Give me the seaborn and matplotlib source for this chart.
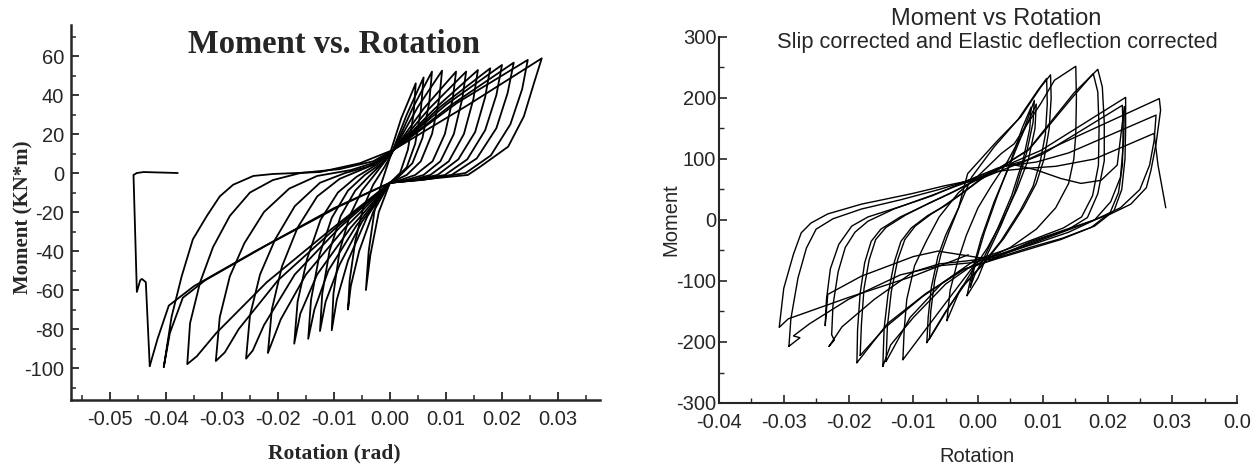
import pandas as pd
import matplotlib
matplotlib.use('Agg')
import matplotlib.pyplot as plt
import seaborn as sns
from matplotlib.ticker import MultipleLocator, FixedLocator

# ---------------- datos ----------------
# Grafico izquierdo: ciclos (rotacion [rad], momento [KN*m])
ciclo_l1 = [(0.0, 10), (0.002, 28), (0.0046, 46), (0.0042, 30), (0.0032, 12), (0.0018, 0), (0.0, -5),
            (-0.002, -20), (-0.0035, -42), (-0.0043, -60), (-0.0038, -40), (-0.0028, -20), (-0.0015, -5), (0.0, 8)]
ciclo_l2 = [(0.0, 8), (0.003, 30), (0.006, 49), (0.0055, 32), (0.0045, 15), (0.003, 3), (0.001, -3), (0.0, -5),
            (-0.003, -20), (-0.0055, -40), (-0.007, -58), (-0.0075, -70), (-0.0072, -55), (-0.0062, -35),
            (-0.0048, -18), (-0.003, -6), (-0.001, 3), (0.0007, 12)]
ciclo_l3 = [(0.0007, 12), (0.004, 33), (0.0075, 52), (0.007, 36), (0.0058, 18), (0.004, 5), (0.0015, -2), (0.0, -5),
            (-0.004, -22), (-0.0075, -45), (-0.0095, -65), (-0.0104, -80.6), (-0.0101, -62), (-0.009, -40),
            (-0.0072, -22), (-0.005, -9), (-0.0025, 0), (0.0007, 12)]
ciclo_l4 = [(0.0007, 12), (0.005, 34), (0.0093, 52.5), (0.0088, 38), (0.0075, 20), (0.0055, 6), (0.003, -1), (0.0, -5),
            (-0.005, -25), (-0.009, -47), (-0.0115, -66), (-0.0125, -81), (-0.0121, -62), (-0.0108, -40),
            (-0.0088, -22), (-0.0062, -9), (-0.0035, -1), (-0.001, 6), (0.0007, 12)]
ciclo_l5 = [(0.0007, 12), (0.006, 33), (0.0118, 52), (0.0112, 38), (0.0098, 20), (0.0076, 6), (0.0045, -1), (0.002, -3.5),
            (0.0, -5), (-0.006, -27), (-0.011, -50), (-0.0135, -70), (-0.0146, -85), (-0.0141, -65), (-0.0126, -42),
            (-0.0104, -23), (-0.0075, -9), (-0.0045, -1), (-0.0015, 5), (0.0007, 12)]
ciclo_l6 = [(0.0007, 12), (0.007, 33), (0.0136, 52), (0.0129, 38), (0.0114, 20), (0.009, 6), (0.006, -1), (0.003, -3.5),
            (0.0, -5), (-0.007, -28), (-0.013, -52), (-0.016, -72), (-0.0171, -87.5), (-0.0165, -66), (-0.0148, -44),
            (-0.0124, -24), (-0.0093, -10), (-0.006, -2), (-0.002, 5), (0.0007, 12)]
ciclo_l7 = [(0.0007, 12), (0.008, 33), (0.0157, 52.8), (0.0149, 38), (0.0132, 20), (0.0105, 6), (0.0072, -1), (0.004, -3.5),
            (0.0, -5), (-0.008, -28), (-0.015, -52), (-0.0195, -75), (-0.0218, -92.3), (-0.0211, -70), (-0.0193, -48),
            (-0.0165, -28), (-0.013, -12), (-0.009, -3), (-0.004, 3), (0.0007, 12)]
ciclo_l8 = [(0.0007, 12), (0.009, 34), (0.0179, 53.7), (0.017, 39), (0.0152, 21), (0.0122, 7), (0.0085, -1), (0.0045, -3.5),
            (0.0, -5), (-0.009, -28), (-0.017, -52), (-0.0225, -78), (-0.0245, -91), (-0.0257, -95.2), (-0.025, -73),
            (-0.0232, -52), (-0.0205, -34), (-0.017, -17), (-0.0125, -5), (-0.008, 0), (-0.003, 4), (0.0007, 12)]
ciclo_l9 = [(0.0007, 12), (0.01, 35), (0.020, 55.4), (0.019, 40), (0.017, 22), (0.0138, 7), (0.0098, -1), (0.005, -3.5),
            (0.0, -5), (-0.01, -29), (-0.02, -55), (-0.027, -80), (-0.0295, -92), (-0.0311, -96.4), (-0.0304, -74),
            (-0.0286, -53), (-0.026, -36), (-0.0225, -20), (-0.018, -8), (-0.013, -1.5), (-0.007, 1.5), (-0.002, 6),
            (0.0007, 12)]
ciclo_l10 = [(0.0007, 12), (0.011, 35), (0.0221, 56.6), (0.021, 41), (0.019, 23), (0.0155, 7.5), (0.011, -1), (0.006, -3.5),
             (0.0, -5), (-0.011, -30), (-0.022, -56), (-0.031, -82), (-0.0345, -94), (-0.0362, -98), (-0.0357, -77),
             (-0.0339, -56), (-0.0316, -38), (-0.0286, -22), (-0.025, -10), (-0.0209, -3.6), (-0.016, 0), (-0.009, 2),
             (-0.003, 6), (0.0007, 12)]
ciclo_l11 = [(0.0007, 12), (0.012, 36), (0.0246, 58), (0.0236, 43), (0.0215, 25), (0.018, 9), (0.0135, 0), (0.007, -3),
             (0.0, -5), (-0.009, -17), (-0.022, -37), (-0.033, -55), (-0.037, -64), (-0.0393, -82), (-0.0404, -99.6),
             (-0.039, -73.7), (-0.0372, -53), (-0.0352, -34), (-0.0327, -22), (-0.0304, -12), (-0.028, -6),
             (-0.0244, -1.5), (-0.0209, -0.5), (-0.0125, 0.5), (-0.0054, 5), (0.0007, 12)]
ciclo_l12 = [(0.0007, 12), (0.014, 35), (0.0271, 58.8), (0.0257, 46), (0.0239, 29), (0.0211, 13.5), (0.016, 3),
             (0.0139, -1), (0.007, -3), (0.0, -5), (-0.01, -18), (-0.024, -40), (-0.035, -58), (-0.0395, -68),
             (-0.0415, -85), (-0.0429, -99)]
# rotura final
rotura_l = [(-0.0429, -99), (-0.0436, -56), (-0.0443, -54.3), (-0.0446, -55), (-0.0452, -61), (-0.0458, -1),
            (-0.0452, 0), (-0.044, 0.5), (-0.0379, 0)]

# Grafico derecho: ciclos corregidos (rotacion, momento)
ciclo_r1 = [(-0.0017, -124), (-0.0008, -80), (0.0005, -30), (0.0025, 30), (0.0045, 80), (0.0068, 140), (0.0087, 196),
            (0.0085, 160), (0.0075, 110), (0.0056, 43), (0.0035, -10), (0.0015, -55), (0.0, -95), (-0.0017, -124)]
ciclo_r1b = [(-0.0012, -110), (-0.0004, -70), (0.001, -20), (0.003, 40), (0.005, 95), (0.0068, 150), (0.0082, 185),
             (0.008, 150), (0.007, 100), (0.0052, 40), (0.003, -15), (0.001, -60), (-0.0005, -90), (-0.0012, -110)]
ciclo_r2 = [(-0.0048, -165), (-0.0043, -115), (-0.0032, -70), (-0.0018, -25), (0.0, 20), (0.002, 55), (0.0045, 95),
            (0.0068, 140), (0.009, 190), (0.0088, 150), (0.0078, 100), (0.006, 50), (0.0038, 0), (0.0015, -45),
            (-0.001, -85), (-0.003, -120), (-0.0048, -165)]
ciclo_r3 = [(-0.0079, -201), (-0.0077, -160), (-0.0072, -110), (-0.0062, -60), (-0.005, -25), (-0.003, 20),
            (-0.0016, 76), (0.003, 130), (0.0066, 169), (0.0097, 218), (0.0112, 238), (0.0113, 200), (0.011, 150),
            (0.0102, 100), (0.009, 60), (0.007, 20), (0.004, -30), (0.001, -70), (-0.002, -105), (-0.005, -150),
            (-0.0079, -201)]
ciclo_r3b = [(-0.0075, -195), (-0.0073, -150), (-0.0067, -100), (-0.0057, -55), (-0.0045, -20), (-0.0028, 25),
             (-0.001, 70), (0.0025, 120), (0.0062, 165), (0.0092, 212), (0.0106, 232), (0.0107, 190), (0.0104, 140),
             (0.0096, 95), (0.0085, 55), (0.0065, 15), (0.0035, -35), (0.0005, -75), (-0.0025, -110),
             (-0.0052, -155), (-0.0075, -195)]
ciclo_r4 = [(-0.0116, -229), (-0.0114, -180), (-0.011, -130), (-0.0098, -75), (-0.008, -35), (-0.006, 5), (-0.003, 45),
            (0.0, 72), (0.0036, 109), (0.0056, 125), (0.0097, 191), (0.0118, 229), (0.0151, 252), (0.0152, 200),
            (0.0151, 140), (0.0148, 100), (0.014, 60), (0.012, 20), (0.009, -15), (0.005, -45), (0.001, -65),
            (-0.001, -80), (-0.006, -150), (-0.0116, -229)]
ciclo_r5 = [(-0.0147, -240), (-0.0145, -178), (-0.0139, -122), (-0.0129, -68), (-0.0119, -35), (-0.0103, -13),
            (-0.0078, 7), (-0.0057, 20), (-0.0026, 43), (0.0, 64), (0.004, 90), (0.0077, 114), (0.0148, 208),
            (0.0185, 247), (0.0192, 218), (0.0195, 160), (0.0195, 97), (0.0185, 43), (0.0169, 4), (0.014, -15),
            (0.01, -30), (0.005, -50), (0.0, -68), (-0.005, -105), (-0.01, -160), (-0.0135, -205), (-0.0147, -240)]
ciclo_r5b = [(-0.0142, -232), (-0.014, -175), (-0.0134, -118), (-0.0124, -65), (-0.0113, -32), (-0.0097, -10),
             (-0.0072, 10), (-0.005, 24), (-0.002, 47), (0.0005, 67), (0.0045, 93), (0.008, 117), (0.0145, 200),
             (0.0178, 240), (0.0185, 210), (0.0187, 150), (0.0186, 90), (0.0177, 40), (0.016, 5), (0.0132, -13),
             (0.0095, -28), (0.0045, -48), (-0.0005, -66), (-0.0055, -103), (-0.0105, -160), (-0.0142, -232)]
ciclo_r6 = [(-0.0187, -234), (-0.0186, -180), (-0.0182, -120), (-0.0175, -70), (-0.0165, -35), (-0.015, -15),
            (-0.012, 5), (-0.008, 25), (-0.004, 45), (-0.001, 62), (0.004, 88), (0.0097, 114), (0.0228, 201),
            (0.0228, 150), (0.0227, 100), (0.0222, 50), (0.021, 15), (0.018, -10), (0.013, -30), (0.008, -45),
            (0.003, -62), (-0.002, -80), (-0.008, -120), (-0.014, -170), (-0.0187, -234)]
ciclo_r6b = [(-0.0182, -222), (-0.018, -170), (-0.0176, -112), (-0.0168, -65), (-0.0158, -32), (-0.0142, -12),
             (-0.0112, 8), (-0.0075, 28), (-0.0035, 48), (-0.0005, 64), (0.0045, 85), (0.01, 108), (0.0223, 188),
             (0.0224, 140), (0.0223, 90), (0.0217, 45), (0.0204, 12), (0.0175, -12), (0.0128, -32), (0.0078, -48),
             (0.0028, -64), (-0.0025, -82), (-0.0085, -125), (-0.0142, -175), (-0.0182, -222)]
ciclo_r7 = [(-0.023, -207), (-0.0222, -197), (-0.0226, -188), (-0.0224, -140), (-0.0216, -85), (-0.0205, -45),
            (-0.019, -20), (-0.017, -2), (-0.013, 18), (-0.008, 37), (-0.003, 57), (0.0, 68), (0.005, 92),
            (0.009, 82), (0.0128, 68), (0.0159, 60), (0.019, 65), (0.0215, 90), (0.0226, 186), (0.0225, 130),
            (0.022, 70), (0.0205, 30), (0.018, 0), (0.014, -20), (0.009, -38), (0.004, -55), (0.0, -65),
            (-0.006, -72), (-0.01, -85), (-0.016, -130), (-0.021, -175), (-0.023, -207)]
ciclo_r8 = [(-0.0236, -173), (-0.0234, -130), (-0.0228, -80), (-0.0215, -40), (-0.0195, -10), (-0.017, 5),
            (-0.012, 22), (-0.007, 40), (-0.002, 63), (0.003, 85), (0.0075, 98), (0.0128, 125), (0.028, 199),
            (0.0282, 180), (0.0275, 125), (0.0267, 81), (0.026, 53), (0.0236, 26), (0.0205, 10), (0.0174, -2),
            (0.0143, -13), (0.0082, -35), (0.005, -51), (0.002, -65), (-0.002, -58), (-0.0062, -51), (-0.01, -60),
            (-0.018, -92), (-0.0232, -122), (-0.0236, -173)]
ciclo_r9 = [(-0.0292, -207), (-0.0289, -162), (-0.0278, -95), (-0.0265, -46), (-0.025, -15), (-0.0224, 2),
            (-0.018, 18), (-0.012, 33), (-0.006, 50), (-0.002, 63), (0.004, 88), (0.009, 95), (0.014, 110),
            (0.0275, 172), (0.0272, 130), (0.0265, 90), (0.025, 50), (0.022, 20), (0.018, 0), (0.013, -20),
            (0.008, -40), (0.003, -60), (-0.001, -70), (-0.006, -75), (-0.012, -90), (-0.02, -130), (-0.026, -170),
            (-0.0285, -190), (-0.0275, -193), (-0.0292, -207)]
ciclo_r10 = [(-0.0015, -57), (-0.01, -92), (-0.02, -127), (-0.0293, -162), (-0.0307, -176), (-0.030, -112),
             (-0.0285, -56), (-0.0273, -21), (-0.0258, -5), (-0.0232, 10), (-0.018, 26), (-0.0103, 43),
             (-0.0052, 56), (-0.0015, 64), (0.003, 80), (0.008, 85), (0.012, 88), (0.018, 100), (0.0272, 142),
             (0.0278, 90), (0.029, 20)]

# ejes y etiquetas
izq_xticks = [-0.05, -0.04, -0.03, -0.02, -0.01, 0.0, 0.01, 0.02, 0.03]
izq_xlabels = ['-0.05', '-0.04', '-0.03', '-0.02', '-0.01', '0.00', '0.01', '0.02', '0.03']
izq_yticks = [60, 40, 20, 0, -20, -40, -60, -80, -100]
izq_ylabels = ['60', '40', '20', '0', '-20', '-40', '-60', '-80', '-100']
der_xticks = [-0.04, -0.03, -0.02, -0.01, 0.0, 0.01, 0.02, 0.03, 0.04]
der_xlabels = ['-0.04', '-0.03', '-0.02', '-0.01', '0.00', '0.01', '0.02', '0.03', '0.0']
der_yticks = [-300, -200, -100, 0, 100, 200, 300]
der_ylabels = ['-300', '-200', '-100', '0', '100', '200', '300']

ciclos_izq = [ciclo_l1, ciclo_l2, ciclo_l3, ciclo_l4, ciclo_l5, ciclo_l6, ciclo_l7, ciclo_l8,
              ciclo_l9, ciclo_l10, ciclo_l11, ciclo_l12, rotura_l]
ciclos_der = [ciclo_r1, ciclo_r1b, ciclo_r2, ciclo_r3, ciclo_r3b, ciclo_r4, ciclo_r5, ciclo_r5b,
              ciclo_r6, ciclo_r6b, ciclo_r7, ciclo_r8, ciclo_r9, ciclo_r10]


def a_tabla(ciclos):
    filas = []
    for k, ciclo in enumerate(ciclos):
        for i, (rot, mom) in enumerate(ciclo):
            filas.append({'ciclo': k, 'paso': i, 'rotation': rot, 'moment': mom})
    return pd.DataFrame(filas)


df_izq = a_tabla(ciclos_izq)
df_der = a_tabla(ciclos_der)

sns.set_style('ticks')
plt.rcParams['font.family'] = ['Liberation Sans', 'DejaVu Sans']

W, H = 1259, 467
fig = plt.figure(figsize=(W / 100, H / 100), dpi=100)
ax1 = fig.add_axes([71 / W, 1 - 400 / H, 529 / W, 375 / H])
ax2 = fig.add_axes([719 / W, 1 - 403 / H, 518 / W, 366 / H])

# Grafico izquierdo
sns.lineplot(data=df_izq, x='rotation', y='moment', units='ciclo', estimator=None, sort=False,
             color='black', lw=1.3, ax=ax1)
ax1.set_xlim(-0.05696, 0.0375)
ax1.set_ylim(-116.4, 75.9)
ax1.xaxis.set_major_locator(FixedLocator(izq_xticks))
ax1.set_xticklabels(izq_xlabels)
ax1.yaxis.set_major_locator(FixedLocator(izq_yticks))
ax1.set_yticklabels(izq_ylabels)
ax1.xaxis.set_minor_locator(MultipleLocator(0.005))
ax1.yaxis.set_minor_locator(MultipleLocator(10))
ax1.tick_params(which='major', direction='in', length=6, width=1.3, labelsize=14.5)
ax1.tick_params(which='minor', direction='in', length=3.5, width=1.1)
ax1.tick_params(axis='x', which='major', pad=7)
ax1.tick_params(axis='y', which='major', pad=5)
ax1.set_xlabel('')
ax1.set_ylabel('')
sns.despine(ax=ax1)
for s in ['left', 'bottom']:
    ax1.spines[s].set_linewidth(1.8)

# Grafico derecho
sns.lineplot(data=df_der, x='rotation', y='moment', units='ciclo', estimator=None, sort=False,
             color='black', lw=1.0, ax=ax2)
ax2.set_xlim(-0.04, 0.04)
ax2.set_ylim(-300, 300)
ax2.xaxis.set_major_locator(FixedLocator(der_xticks))
ax2.set_xticklabels(der_xlabels)
ax2.yaxis.set_major_locator(FixedLocator(der_yticks))
ax2.set_yticklabels(der_ylabels)
ax2.xaxis.set_minor_locator(MultipleLocator(0.005))
ax2.yaxis.set_minor_locator(MultipleLocator(50))
ax2.tick_params(which='major', direction='in', length=6, width=1.2, labelsize=14.5)
ax2.tick_params(which='minor', direction='in', length=3.5, width=1.0)
ax2.tick_params(axis='x', which='major', pad=7)
ax2.tick_params(axis='y', which='major', pad=2)
ax2.set_xlabel('')
ax2.set_ylabel('')
sns.despine(ax=ax2)
for s in ['left', 'bottom']:
    ax2.spines[s].set_linewidth(1.5)

# Textos
serif = ['Liberation Serif', 'DejaVu Serif']
fig.text(334 / W, 1 - 53 / H, 'Moment vs. Rotation', family=serif, weight='bold', fontsize=23.5,
         ha='center', va='baseline')
fig.text(23 / W, 1 - 217 / H, 'Moment (KN*m)', family=serif, weight='bold', fontsize=15,
         rotation=90, ha='center', va='center')
fig.text(334 / W, 1 - 458 / H, 'Rotation (rad)', family=serif, weight='bold', fontsize=15.5,
         ha='center', va='baseline')
fig.text(996 / W, 1 - 25 / H, 'Moment vs Rotation', fontsize=17, ha='center', va='baseline')
fig.text(997 / W, 1 - 48 / H, 'Slip corrected and Elastic deflection corrected', fontsize=15.7,
         ha='center', va='baseline')
fig.text(671 / W, 1 - 220 / H, 'Moment', fontsize=14.5, rotation=90, ha='center', va='center')
fig.text(977 / W, 1 - 462 / H, 'Rotation', fontsize=14.5, ha='center', va='baseline')

fig.savefig('out.png', dpi=100)
plt.close()
